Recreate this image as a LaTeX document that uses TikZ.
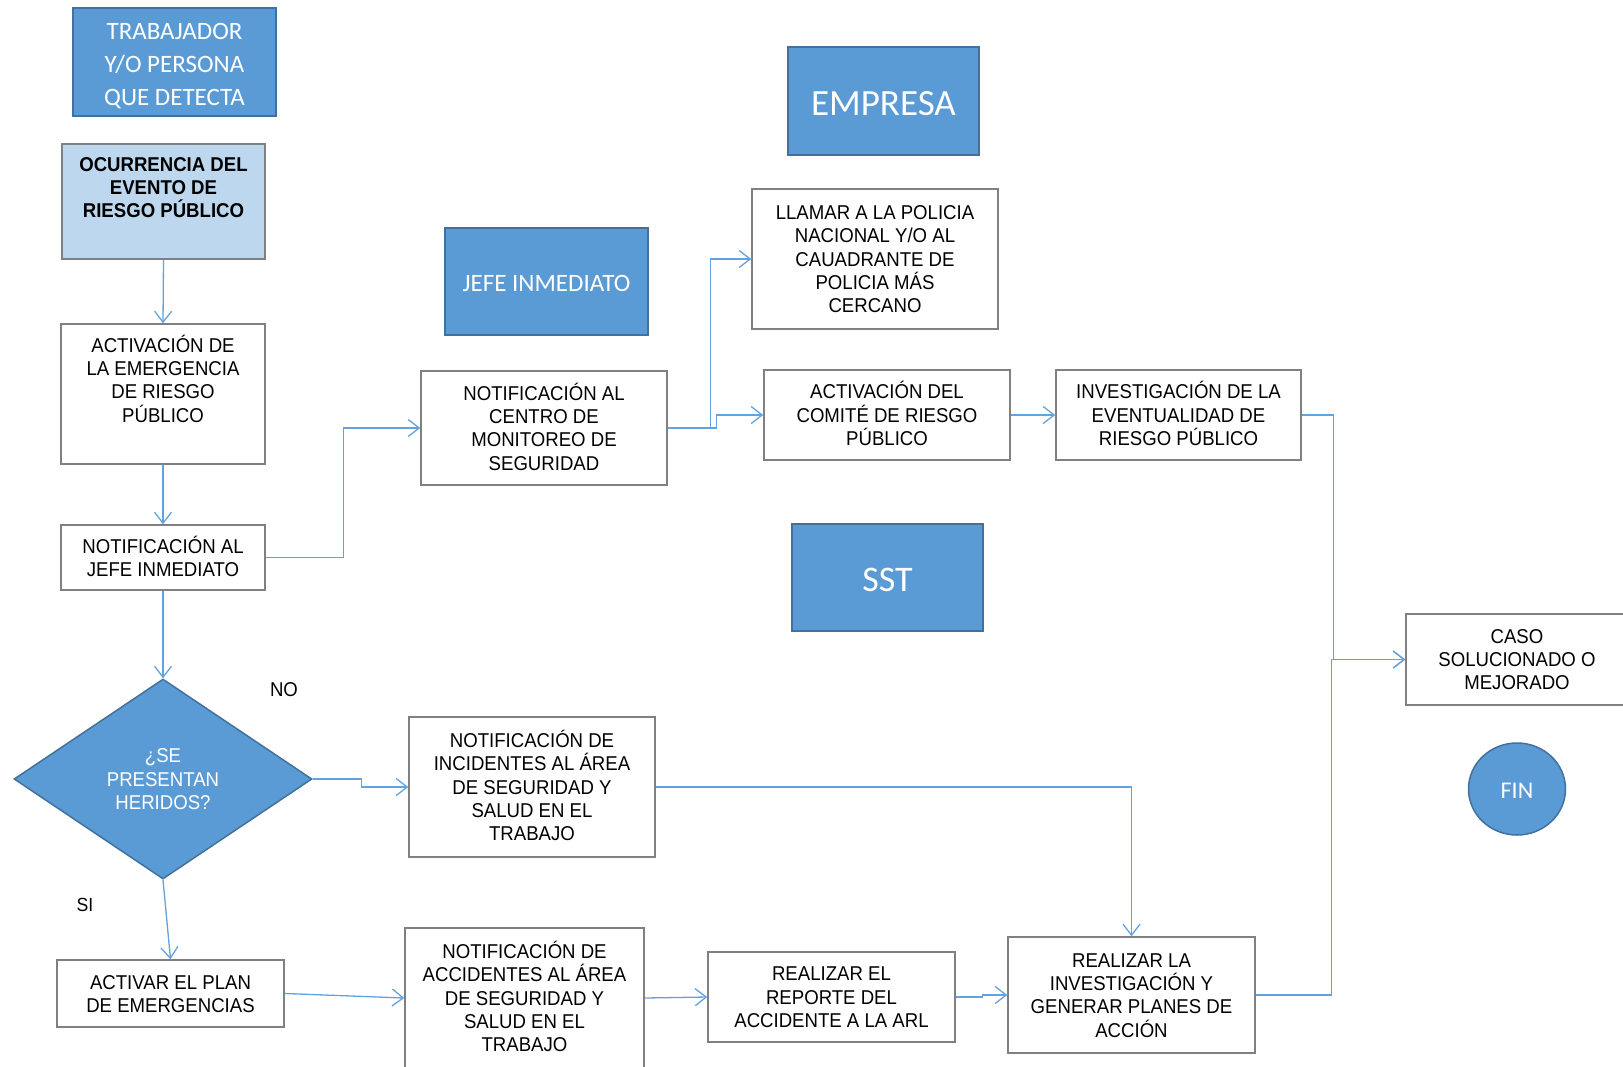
\documentclass[tikz,border=0pt]{standalone}
\usepackage{fontspec}
\usetikzlibrary{arrows.meta,shapes.geometric}
\newfontfamily\carl{Carlito}
\newfontfamily\nar[FakeStretch=0.93]{Liberation Sans}
\newcommand\hs{\rule{0pt}{19.5pt}}
\definecolor{bluefill}{RGB}{91,155,213}
\definecolor{blueedge}{RGB}{65,113,156}
\definecolor{lightfill}{RGB}{189,215,238}
\definecolor{boxgray}{RGB}{128,128,128}
\definecolor{linkblue}{RGB}{100,162,222}
\tikzset{
  narstrut/.style={execute at end node={\rule[-5.2pt]{0pt}{5.2pt}}},
  procbox/.style={draw=boxgray, line width=1.5pt, fill=white, inner sep=0pt, align=center,
    font=\nar\fontsize{20}{23.3}\selectfont, text=black, narstrut},
  bluebox/.style={draw=blueedge, line width=2pt, fill=bluefill, inner sep=0pt, align=center,
    text=white, font=\carl\fontsize{25}{33}\selectfont, execute at begin node={\rule{0pt}{0.8em}}},
  txt/.style={inner sep=0pt, align=center, font=\nar\fontsize{20}{23.3}\selectfont},
  conn/.style={draw=linkblue, line width=1.3pt, -{Straight Barb[length=11pt,width=17pt,line width=1.3pt]}}
}
\begin{document}
\begin{tikzpicture}[x=1pt,y=-1pt]
\clip (0,0) rectangle (1623,1066);
\fill[white] (0,0) rectangle (1623,1066);

% header blue boxes
\node[bluebox, minimum width=203pt, minimum height=108pt] (trab) at (174.5,62) {\rule{0pt}{1.0em}TRABAJADOR\\Y/O PERSONA\\QUE DETECTA};
\node[bluebox, minimum width=191pt, minimum height=108pt, font=\carl\fontsize{37}{40}\selectfont] (empresa) at (883.5,101) {EMPRESA};
\node[bluebox, minimum width=203pt, minimum height=107pt] (jefe) at (546.5,281.5) {JEFE INMEDIATO};
\node[bluebox, minimum width=191pt, minimum height=107pt, font=\carl\fontsize{36}{40}\selectfont] (sst) at (887.5,577.5) {SST};

% left column
\node[procbox, fill=lightfill, minimum width=203pt, minimum height=115pt] (ocurr) at (163.5,201.5) {};
\node[txt, narstrut, font=\nar\bfseries\fontsize{20}{23.3}\selectfont] (ocurrt) at (163.5,187.5) {\hs OCURRENCIA DEL\\EVENTO DE\\RIESGO PÚBLICO};
\node[procbox, minimum width=204pt, minimum height=140pt] (actem) at (163,394) {};
\node[txt, narstrut] (actemt) at (163,380) {\hs ACTIVACIÓN DE\\LA EMERGENCIA\\DE RIESGO\\PÚBLICO};
\node[procbox, minimum width=204pt, minimum height=65pt] (notjefe) at (163,557.5) {\hs NOTIFICACIÓN AL\\JEFE INMEDIATO};
\node[diamond, draw=blueedge, line width=1.5pt, fill=bluefill, inner sep=0pt, minimum width=298pt, minimum height=200pt,
  align=center, text=white, font=\nar\fontsize{20}{23.3}\selectfont, narstrut] (diam) at (163,779) {\hs ¿SE\\PRESENTAN\\HERIDOS?};
\node[txt] (nolab) at (284,690) {NO};
\node[txt, font=\nar\fontsize{19}{22}\selectfont] (silab) at (85,905) {SI};
\node[procbox, minimum width=227pt, minimum height=67pt] (activar) at (170.5,993.5) {\hs ACTIVAR EL PLAN\\DE EMERGENCIAS};

% middle
\node[procbox, minimum width=246pt, minimum height=114pt] (notcen) at (544,428) {\hs NOTIFICACIÓN AL\\CENTRO DE\\MONITOREO DE\\SEGURIDAD};
\node[procbox, minimum width=246pt, minimum height=140pt] (llamar) at (875,259) {\hs LLAMAR A LA POLICIA\\NACIONAL Y/O AL\\CAUADRANTE DE\\POLICIA MÁS\\CERCANO};
\node[procbox, minimum width=246pt, minimum height=90pt] (comite) at (887,415) {\hs ACTIVACIÓN DEL\\COMITÉ DE RIESGO\\PÚBLICO};
\node[procbox, minimum width=245pt, minimum height=90pt] (inves) at (1178.5,415) {\hs INVESTIGACIÓN DE LA\\EVENTUALIDAD DE\\RIESGO PÚBLICO};
\node[procbox, minimum width=246pt, minimum height=140pt] (incid) at (532,787) {\hs NOTIFICACIÓN DE\\INCIDENTES AL ÁREA\\DE SEGURIDAD Y\\SALUD EN EL\\TRABAJO};
\node[procbox, minimum width=239pt, minimum height=140pt] (accid) at (524.5,998) {\hs NOTIFICACIÓN DE\\ACCIDENTES AL ÁREA\\DE SEGURIDAD Y\\SALUD EN EL\\TRABAJO};
\node[procbox, minimum width=247pt, minimum height=90pt] (reporte) at (831.5,997) {\hs REALIZAR EL\\REPORTE DEL\\ACCIDENTE A LA ARL};
\node[procbox, minimum width=247pt, minimum height=116pt] (realinv) at (1131.5,995) {\hs REALIZAR LA\\INVESTIGACIÓN Y\\GENERAR PLANES DE\\ACCIÓN};

% right
\node[procbox, minimum width=222pt, minimum height=91pt] (caso) at (1517,659.5) {\hs CASO\\SOLUCIONADO O\\MEJORADO};
\node[ellipse, draw=blueedge, line width=1.5pt, fill=bluefill, inner sep=0pt, minimum width=97pt, minimum height=92pt,
  text=white, font=\carl\fontsize{24}{28}\selectfont, execute at begin node={\rule{0pt}{0.8em}}] (fin) at (1517,789) {FIN};

% connectors
\draw[conn] (ocurr.south) -- (actem.north);
\draw[conn] (actem.south) -- (notjefe.north);
\draw[conn] (notjefe.south) -- (diam.north);
\draw[conn] (notjefe.east) -- ++(78,0) |- (notcen.west);
\draw[conn] (notcen.east) -- ++(43,0) |- (llamar.west);
\draw[conn] (notcen.east) -- ++(49,0) |- (comite.west);
\draw[conn] (comite.east) -- (inves.west);
\draw[conn] (inves.east) -- ++(32,0) |- (caso.west);
\draw[conn] (realinv.east) -- ++(76,0) |- (caso.west);
\draw[conn] (diam.east) -- ++(49,0) |- (incid.west);
\draw[conn] (incid.east) -| (realinv.north);
\draw[conn] (diam.south) -- (activar.north);
\draw[conn] (activar.east) -- (accid.west);
\draw[conn] (accid.east) -- (reporte.west);
\draw[conn] (reporte.east) -- ++(27,0) |- (realinv.west);
\end{tikzpicture}
\end{document}
